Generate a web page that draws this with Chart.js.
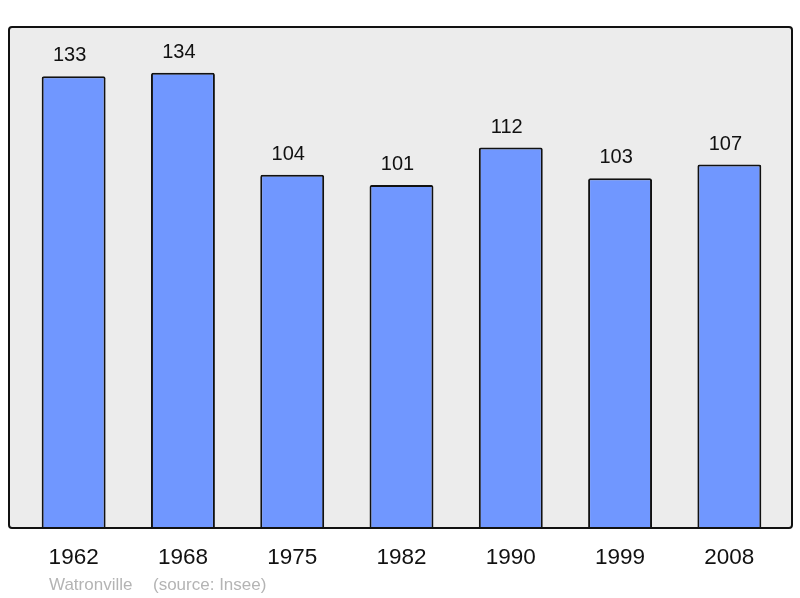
<!DOCTYPE html>
<html>
<head>
<meta charset="utf-8">
<script src="https://cdn.jsdelivr.net/npm/chart.js@4"></script>
<style>
html,body{margin:0;padding:0;background:#fff;}
#wrap{width:800px;height:598px;}
</style>
</head>
<body>
<div id="wrap"><canvas id="c" width="800" height="598"></canvas></div>
<script>
const years = ["1962","1968","1975","1982","1990","1999","2008"];
const population = [133,134,104,101,112,103,107];
const townName = "Watronville";
const sourceText = "(source: Insee)";

const boxPlugin = {
  id: 'box',
  beforeDatasetsDraw(chart) {
    const {ctx, chartArea: a} = chart;
    const l = a.left - 10, r = a.right + 8, t = a.top, b = a.bottom;
    ctx.save();
    ctx.beginPath();
    ctx.roundRect(l, t, r - l, b - t, 3);
    ctx.fillStyle = '#ececec';
    ctx.fill();
    ctx.restore();
  },
  afterDatasetsDraw(chart) {
    const {ctx, chartArea: a} = chart;
    const l = a.left - 10, r = a.right + 8, t = a.top, b = a.bottom;
    ctx.save();
    ctx.beginPath();
    ctx.roundRect(l, t, r - l, b - t, 3);
    ctx.lineWidth = 2;
    ctx.strokeStyle = '#111';
    ctx.stroke();
    // value labels
    const meta = chart.getDatasetMeta(0);
    ctx.fillStyle = '#111';
    ctx.font = '20px "Liberation Sans", Arial, sans-serif';
    ctx.textAlign = 'center';
    ctx.textBaseline = 'alphabetic';
    meta.data.forEach((bar, i) => {
      ctx.fillText(String(population[i]), bar.x - 4, bar.y - 15);
    });
    // footer
    ctx.fillStyle = '#b4b4b4';
    ctx.font = '17px "Liberation Sans", Arial, sans-serif';
    ctx.textAlign = 'left';
    ctx.fillText(townName, 49, 590);
    ctx.fillText(sourceText, 153, 590);
    ctx.restore();
  }
};

new Chart(document.getElementById('c'), {
  type: 'bar',
  data: {
    labels: years,
    datasets: [{
      data: population,
      backgroundColor: '#7097ff',
      borderColor: '#111',
      borderWidth: 2,
      borderRadius: 2,
      borderSkipped: 'start',
      barPercentage: 0.585,
      categoryPercentage: 1
    }]
  },
  options: {
    responsive: false,
    animation: false,
    devicePixelRatio: 1,
    layout: { padding: { left: 19, right: 16, top: 27, bottom: 0 } },
    plugins: { legend: { display: false }, tooltip: { enabled: false }, title: { display: false } },
    scales: {
      x: {
        grid: { display: false, drawTicks: false },
        border: { display: false },
        ticks: { color: '#111', font: { size: 22.5, family: '"Liberation Sans", Arial, sans-serif' }, padding: 16 },
        afterFit(scale) { scale.height = 70; }
      },
      y: {
        display: false,
        min: 0,
        max: 147.5
      }
    }
  },
  plugins: [boxPlugin]
});
</script>
</body>
</html>
